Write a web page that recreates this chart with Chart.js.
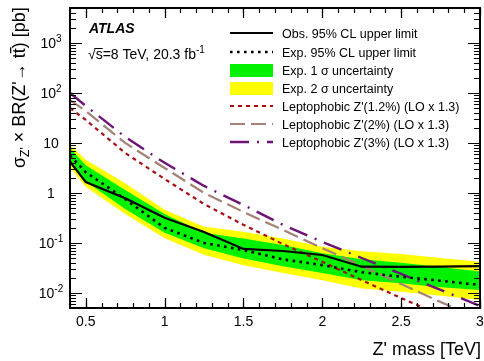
<!DOCTYPE html>
<html><head><meta charset="utf-8">
<script src="https://cdn.jsdelivr.net/npm/chart.js@4.4.1/dist/chart.umd.min.js"></script>
<style>html,body{margin:0;padding:0;background:#fff}</style>
</head><body>
<canvas id="c" width="484" height="361"></canvas>
<script>
// ---- data ----
const massTeV      = [0.4, 0.5, 0.75, 1.0, 1.25, 1.5, 1.75, 2.0, 2.25, 2.5, 2.75, 3.0];
const observed     = [4.2, 1.65, 0.78, 0.32, 0.165, 0.076, 0.069, 0.0575, 0.0335, 0.0333, 0.0335, 0.0345];
const expected     = [5.6, 2.6, 0.75, 0.2, 0.1, 0.072, 0.047, 0.036, 0.026, 0.021, 0.0176, 0.0144];
const oneSigmaUp   = [7.9, 3.6, 1.15, 0.38, 0.16, 0.123, 0.091, 0.062, 0.047, 0.04, 0.033, 0.027];
const oneSigmaDown = [4.0, 1.7, 0.48, 0.16, 0.078, 0.049, 0.034, 0.025, 0.018, 0.0156, 0.013, 0.0115];
const twoSigmaUp   = [9.1, 4.6, 1.56, 0.46, 0.21, 0.168, 0.123, 0.084, 0.068, 0.06, 0.05, 0.042];
const twoSigmaDown = [3.2, 1.33, 0.38, 0.124, 0.058, 0.036, 0.025, 0.018, 0.0123, 0.0106, 0.0088, 0.0072];
const zp12 = [50, 28.8, 6.3, 1.9, 0.6, 0.23, 0.095, 0.042, 0.018, 0.0079, 0.0036, 0.0017];
const zp2  = [72, 43.7, 10, 3.16, 1.0, 0.417, 0.182, 0.079, 0.0347, 0.0151, 0.0066, 0.0029];
const zp3  = [100, 55, 13.2, 4.0, 1.38, 0.575, 0.23, 0.105, 0.05, 0.024, 0.0115, 0.0055];

const xTickValues = [0.5, 1, 1.5, 2, 2.5, 3];
const xTickLabels = ['0.5', '1', '1.5', '2', '2.5', '3'];
const yTickValues = [0.01, 0.1, 1, 10, 100, 1000];
const yTickBase   = ['10', '10', '1', '10', '10', '10'];
const yTickExp    = ['-2', '-1', '', '', '2', '3'];

const legendLabels = [
  'Obs. 95% CL upper limit',
  'Exp. 95% CL upper limit',
  'Exp. 1 \u03c3 uncertainty',
  'Exp. 2 \u03c3 uncertainty',
  'Leptophobic Z\'(1.2%) (LO x 1.3)',
  'Leptophobic Z\'(2%) (LO x 1.3)',
  'Leptophobic Z\'(3%) (LO x 1.3)'
];

// ---- styles ----
const FONT = '"Liberation Sans", Arial, Helvetica, sans-serif';
const GREEN = '#00f200', YELLOW = '#ffff00';
const RED = '#a80f12', BROWN = '#a38278', PURPLE = '#6e1478';
const pts = arr => massTeV.map((m, i) => ({x: m, y: arr[i]}));

const band = (arr, color, fillTo, order) => ({
  data: pts(arr), borderWidth: 0, borderColor: 'rgba(0,0,0,0)', backgroundColor: color,
  fill: fillTo, pointRadius: 0, tension: 0, order: order
});
const line = (arr, color, width, dash, order) => ({
  data: pts(arr), borderColor: color, borderWidth: width, borderDash: dash,
  borderCapStyle: 'butt', fill: false, pointRadius: 0, tension: 0, order: order
});

const EXP_DASH = [2.6, 4.4];
const datasets = [
  band(twoSigmaUp, YELLOW, 1, 11),
  band(twoSigmaDown, YELLOW, false, 10),
  band(oneSigmaUp, GREEN, 3, 9),
  band(oneSigmaDown, GREEN, false, 8),
  line(zp12, RED, 2.2, [4, 4], 5),
  line(zp2, BROWN, 2.2, [15, 6], 4),
  line(zp3, PURPLE, 2.4, [19, 8, 2, 8], 3),
  line(expected, '#000', 2.6, EXP_DASH, 2),
  line(observed, '#000', 2.2, [], 1)
];

function drawSup(ctx, base, sup, x, y, size, align) {
  ctx.font = size + 'px ' + FONT;
  const wb = ctx.measureText(base).width;
  ctx.font = Math.round(size * 0.7) + 'px ' + FONT;
  const ws = sup ? ctx.measureText(sup).width : 0;
  const total = wb + ws;
  let x0 = x;
  if (align === 'center') x0 = x - total / 2;
  else if (align === 'right') x0 = x - total;
  ctx.textAlign = 'left';
  ctx.font = size + 'px ' + FONT;
  ctx.fillText(base, x0, y);
  if (sup) {
    ctx.font = Math.round(size * 0.7) + 'px ' + FONT;
    ctx.fillText(sup, x0 + wb, y - size * 0.45);
  }
}

const atlasPlugin = {
  id: 'atlasStyle',
  afterDatasetsDraw(chart) {
    const ctx = chart.ctx, a = chart.chartArea;
    const xs = chart.scales.x, ys = chart.scales.y;
    ctx.save();
    ctx.strokeStyle = '#000';
    ctx.lineWidth = 1.2;
    const minorX = [];
    for (let k = 4; k <= 30; k++) minorX.push(k / 10);
    const xt = (v, len) => {
      const p = Math.round(xs.getPixelForValue(v)) + 0.5;
      ctx.beginPath();
      ctx.moveTo(p, a.bottom); ctx.lineTo(p, a.bottom - len);
      ctx.moveTo(p, a.top); ctx.lineTo(p, a.top + len);
      ctx.stroke();
    };
    minorX.forEach(v => xt(v, 5));
    xTickValues.forEach(v => xt(v, 10));
    const yt = (v, len) => {
      const p = Math.round(ys.getPixelForValue(v)) + 0.5;
      ctx.beginPath();
      ctx.moveTo(a.left, p); ctx.lineTo(a.left + len, p);
      ctx.moveTo(a.right, p); ctx.lineTo(a.right - len, p);
      ctx.stroke();
    };
    for (let e = -3; e <= 3; e++) {
      for (let m = 2; m <= 9; m++) {
        const v = m * Math.pow(10, e);
        if (v >= ys.min && v <= ys.max) yt(v, 6);
      }
    }
    yTickValues.forEach(v => yt(v, 12));
    ctx.lineWidth = 2;
    ctx.strokeRect(a.left, a.top, a.right - a.left, a.bottom - a.top);
    ctx.restore();
  },
  afterDraw(chart) {
    const ctx = chart.ctx, a = chart.chartArea;
    const xs = chart.scales.x, ys = chart.scales.y;
    ctx.save();
    ctx.fillStyle = '#000';
    ctx.textBaseline = 'alphabetic';
    ctx.font = '14px ' + FONT;
    ctx.textAlign = 'center';
    xTickValues.forEach((v, i) => {
      ctx.fillText(xTickLabels[i], xs.getPixelForValue(v), a.bottom + 18);
    });
    yTickValues.forEach((v, i) => {
      drawSup(ctx, yTickBase[i], yTickExp[i], 51, ys.getPixelForValue(v) + 5, 14, 'center');
    });
    ctx.font = '18px ' + FONT;
    ctx.textAlign = 'right';
    ctx.fillText("Z' mass [TeV]", 481, 355);
    ctx.save();
    ctx.translate(25, 168);
    ctx.rotate(-Math.PI / 2);
    ctx.textAlign = 'left';
    let x = 0;
    const put = (t, size, dy) => {
      ctx.font = size + 'px ' + FONT;
      ctx.fillText(t, x, dy);
      const w = ctx.measureText(t).width;
      x += w;
      return w;
    };
    put('\u03c3', 18, 0);
    put("Z'", 12, 4);
    put(' \u00d7 BR(Z\'\u2192 t', 18, 0);
    const x0 = x;
    const wt = put('t', 18, 0);
    ctx.fillRect(x0, -15, wt + 1, 1.3);
    put(') [pb]', 18, 0);
    ctx.restore();
    ctx.textAlign = 'left';
    ctx.font = 'italic bold 14px ' + FONT;
    ctx.fillText('ATLAS', 89, 33);
    ctx.font = '14px ' + FONT;
    const wr = ctx.measureText('\u221a').width;
    const ws = ctx.measureText('s').width;
    ctx.fillText('\u221as=8 TeV, 20.3 fb', 88, 59);
    ctx.fillRect(88 + wr - 1, 48, ws + 1, 1);
    const wtxt = ctx.measureText('\u221as=8 TeV, 20.3 fb').width;
    ctx.font = '10px ' + FONT;
    ctx.fillText('-1', 88 + wtxt, 53);
    const rows = [33, 52, 70, 88, 106, 124, 142];
    const lx0 = 230, lx1 = 273;
    const styles = [
      {c: '#000', w: 2.2, d: []},
      {c: '#000', w: 2.6, d: EXP_DASH},
      {box: GREEN}, {box: YELLOW},
      {c: RED, w: 2.2, d: [4, 4]},
      {c: BROWN, w: 2.2, d: [15, 6]},
      {c: PURPLE, w: 2.4, d: [19, 8, 2, 8]}
    ];
    styles.forEach((s, i) => {
      const y = rows[i];
      if (s.box) {
        ctx.fillStyle = s.box;
        ctx.fillRect(lx0, y - 6, lx1 - lx0, 13);
      } else {
        ctx.strokeStyle = s.c; ctx.lineWidth = s.w; ctx.setLineDash(s.d); ctx.lineCap = 'butt';
        ctx.beginPath(); ctx.moveTo(lx0, y); ctx.lineTo(lx1, y); ctx.stroke();
        ctx.setLineDash([]);
      }
      ctx.fillStyle = '#000';
      ctx.font = '12.5px ' + FONT;
      ctx.fillText(legendLabels[i], 282, y + 4.5);
    });
    ctx.restore();
  }
};

new Chart(document.getElementById('c'), {
  type: 'line',
  data: {datasets: datasets},
  plugins: [atlasPlugin],
  options: {
    responsive: false,
    animation: false,
    devicePixelRatio: 1,
    layout: {padding: {left: 0, right: 4, top: 8, bottom: 0}},
    plugins: {legend: {display: false}, tooltip: {enabled: false}},
    scales: {
      x: {
        type: 'linear', min: 0.4, max: 3,
        grid: {display: false, drawTicks: false}, border: {display: false},
        ticks: {display: false},
        afterFit: s => { s.height = 53; }
      },
      y: {
        type: 'logarithmic', min: 0.005, max: 5000,
        grid: {display: false, drawTicks: false}, border: {display: false},
        ticks: {display: false},
        afterFit: s => { s.width = 70; }
      }
    }
  }
});
</script>
</body></html>
